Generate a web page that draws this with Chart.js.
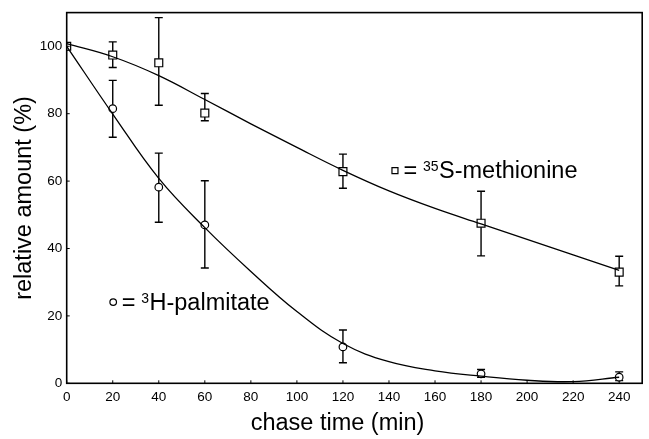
<!DOCTYPE html>
<html><head><meta charset="utf-8">
<script src="https://cdn.jsdelivr.net/npm/chart.js@4"></script>
<style>html,body{margin:0;padding:0;background:#fff}#wrap{width:649px;height:439px}</style>
</head><body><div id="wrap"><canvas id="c" width="649" height="439"></canvas></div>
<script>
// ---- data ----
const chaseTime = [0, 20, 40, 60, 120, 180, 240];
const metMean = [100, 97.4, 95.1, 80.2, 62.8, 47.5, 33.0];
const metLow  = [100, 93.7, 82.5, 77.9, 57.9, 37.8, 28.9];
const metHigh = [100, 101.3, 108.5, 86.0, 68.0, 57.0, 37.7];
const palMean = [100, 81.5, 58.2, 47.0, 10.8, 2.8, 1.8];
const palLow  = [100, 73.0, 47.8, 34.2, 6.1, 1.8, 0.8];
const palHigh = [100, 89.9, 68.3, 60.1, 15.8, 4.1, 3.4];
const fitX   = [0, 20, 40, 60, 80, 100, 120, 140, 160, 180, 200, 220, 240];
const metFit = [100.8, 96.9, 91.3, 84.2, 77.0, 70.0, 63.2, 57.1, 51.9, 47.3, 42.7, 38.1, 33.5];
const palFit = [100, 79.9, 60.8, 46.2, 33.2, 21.3, 11.8, 6.4, 3.7, 2.1, 0.9, 0.5, 1.8];
const xTicks = [0, 20, 40, 60, 80, 100, 120, 140, 160, 180, 200, 220, 240];
const yTicks = [0, 20, 40, 60, 80, 100];
const metLabel = {sup: '35', main: 'S-methionine'};
const palLabel = {sup: '3', main: 'H-palmitate'};
const xTitle = 'chase time (min)';
const yTitle = 'relative amount (%)';

const FONT = '"Liberation Sans", Arial, Helvetica, sans-serif';
Chart.defaults.font.family = FONT;
const toXY = (xs, ys) => xs.map((x, i) => ({x, y: ys[i]}));

const errorBars = {
  id: 'errorBars',
  beforeDatasetsDraw(chart) {
    const {ctx, scales: {x, y}} = chart;
    ctx.save();
    ctx.strokeStyle = '#000';
    ctx.lineWidth = 1.4;
    const draw = (lo, hi) => chaseTime.forEach((t, i) => {
      if (hi[i] - lo[i] < 0.01) return;
      const px = x.getPixelForValue(t);
      const p1 = y.getPixelForValue(lo[i]), p2 = y.getPixelForValue(hi[i]);
      ctx.beginPath();
      ctx.moveTo(px, p1); ctx.lineTo(px, p2);
      ctx.moveTo(px - 4, p1); ctx.lineTo(px + 4, p1);
      ctx.moveTo(px - 4, p2); ctx.lineTo(px + 4, p2);
      ctx.stroke();
    });
    draw(metLow, metHigh);
    draw(palLow, palHigh);
    ctx.restore();
  }
};

const decor = {
  id: 'decor',
  afterDraw(chart) {
    const {ctx, chartArea: a, scales: {x, y}} = chart;
    ctx.save();
    // frame
    ctx.strokeStyle = '#000';
    ctx.lineWidth = 1.6;
    ctx.strokeRect(a.left, a.top, a.right - a.left, a.bottom - a.top);
    // inward ticks
    ctx.lineWidth = 1;
    ctx.beginPath();
    xTicks.forEach(v => { const p = x.getPixelForValue(v); ctx.moveTo(p, a.bottom); ctx.lineTo(p, a.bottom - 3); });
    yTicks.forEach(v => { const p = y.getPixelForValue(v); ctx.moveTo(a.left, p); ctx.lineTo(a.left + 3, p); });
    ctx.stroke();
    // x title
    ctx.fillStyle = '#000';
    ctx.font = '23.5px ' + FONT;
    ctx.textAlign = 'center';
    ctx.textBaseline = 'alphabetic';
    ctx.fillText(xTitle, 337.5, 430);
    // legends in the plot
    const legend = (ax, ay, shape, lab) => {
      const cx = x.getPixelForValue(ax), cy = y.getPixelForValue(ay);
      ctx.lineWidth = 1.2;
      ctx.strokeStyle = '#000';
      ctx.fillStyle = '#fff';
      ctx.beginPath();
      if (shape === 'rect') ctx.rect(cx - 3, cy - 3, 6, 6);
      else ctx.arc(cx, cy, 3.3, 0, Math.PI * 2);
      ctx.fill(); ctx.stroke();
      ctx.fillStyle = '#000';
      ctx.textAlign = 'left';
      ctx.textBaseline = 'alphabetic';
      const base = cy + 7.5;
      ctx.font = '23.5px ' + FONT;
      ctx.fillText('=', cx + 8.5, base);
      ctx.font = '14px ' + FONT;
      const sx = cx + 28;
      ctx.fillText(lab.sup, sx, base - 7);
      const sw = ctx.measureText(lab.sup).width;
      ctx.font = '23.5px ' + FONT;
      ctx.fillText(lab.main, sx + sw + 0.5, base);
    };
    legend(142.6, 63.1, 'rect', metLabel);
    legend(20.2, 24.1, 'circle', palLabel);
    ctx.restore();
  }
};

new Chart(document.getElementById('c'), {
  type: 'scatter',
  data: {
    datasets: [
      {label: 'met fit', type: 'line', data: toXY(fitX, metFit), borderColor: '#000', borderWidth: 1.3,
       pointRadius: 0, fill: false, tension: 0.4},
      {label: 'pal fit', type: 'line', data: toXY(fitX, palFit), borderColor: '#000', borderWidth: 1.3,
       pointRadius: 0, fill: false, tension: 0.4},
      {label: '35S-methionine', data: toXY(chaseTime, metMean), pointStyle: 'rect', pointRadius: 5.6,
       backgroundColor: '#fff', borderColor: '#000', borderWidth: 1.2, showLine: false},
      {label: '3H-palmitate', data: toXY(chaseTime, palMean), pointStyle: 'circle', pointRadius: 3.8,
       backgroundColor: '#fff', borderColor: '#000', borderWidth: 1.2, showLine: false}
    ]
  },
  options: {
    responsive: false,
    animation: false,
    layout: {padding: {top: 11.7, right: 5, left: 0, bottom: 0}},
    plugins: {legend: {display: false}, tooltip: {enabled: false}},
    scales: {
      x: {
        type: 'linear', min: 0, max: 250,
        grid: {display: false, drawTicks: false, tickLength: 0},
        border: {display: false},
        afterBuildTicks: s => { s.ticks = xTicks.map(v => ({value: v})); },
        afterFit: s => { s.height = 55.7; },
        ticks: {autoSkip: false, maxRotation: 0, padding: 6, color: '#000', font: {size: 13.5}}
      },
      y: {
        type: 'linear', min: 0, max: 110,
        grid: {display: false, drawTicks: false, tickLength: 0},
        border: {display: false},
        afterBuildTicks: s => { s.ticks = yTicks.map(v => ({value: v})); },
        afterFit: s => { s.width = 66.7; },
        ticks: {autoSkip: false, padding: 4.5, color: '#000', font: {size: 13.5}},
        title: {display: true, text: yTitle, color: '#000', font: {size: 23.5}, padding: {top: 10.8, bottom: 0}}
      }
    }
  },
  plugins: [errorBars, decor]
});
</script></body></html>
